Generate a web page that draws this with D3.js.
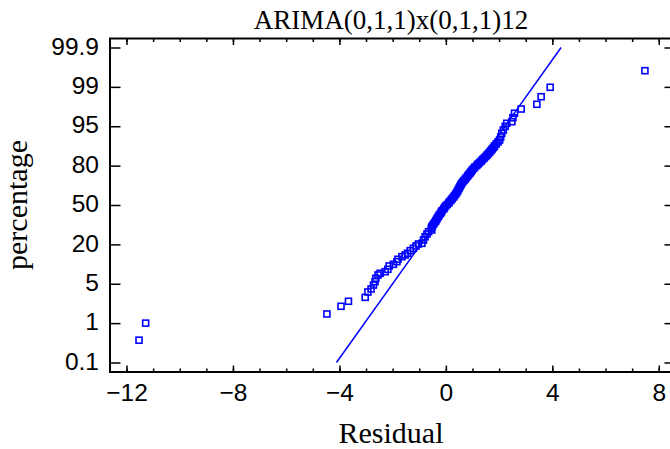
<!DOCTYPE html>
<html><head><meta charset="utf-8">
<script src="https://cdn.jsdelivr.net/npm/d3@7"></script>
<style>body{margin:0;background:#fff}svg{display:block}</style>
</head><body>
<svg id="c" width="670" height="449"></svg>
<script>
const chartTitle = "ARIMA(0,1,1)x(0,1,1)12";
const xTitle = "Residual";
const yTitle = "percentage";
const xMajorTicks = [-12, -8, -4, 0, 4, 8];
const xMinorTicks = [-12,-11,-10,-9,-8,-7,-6,-5,-4,-3,-2,-1,0,1,2,3,4,5,6,7,8];
const yTicks = [0.1, 1, 5, 20, 50, 80, 95, 99, 99.9];

const residuals = [
  -11.53, -11.28, -4.47, -3.94, -3.66, -3.03, -2.93, -2.81, -2.72, -2.66,
  -2.63, -2.55, -2.47, -2.28, -2.18, -2.13, -1.97, -1.84, -1.80, -1.65,
  -1.53, -1.44, -1.34, -1.22, -1.12, -1.03, -0.90, -0.84, -0.78, -0.71,
  -0.65, -0.53, -0.55, -0.53, -0.50, -0.46, -0.42, -0.38, -0.35, -0.32,
  -0.28, -0.25, -0.20, -0.17, -0.14, -0.08, -0.05, -0.01, 0.05, 0.11,
  0.14, 0.20, 0.24, 0.29, 0.33, 0.37, 0.41, 0.44, 0.47, 0.50,
  0.53, 0.56, 0.59, 0.63, 0.68, 0.73, 0.77, 0.82, 0.86, 0.91,
  0.95, 0.99, 1.04, 1.09, 1.16, 1.21, 1.27, 1.33, 1.38, 1.44,
  1.50, 1.55, 1.60, 1.65, 1.70, 1.74, 1.79, 1.83, 1.89, 1.96,
  2.02, 2.06, 2.10, 2.16, 2.23, 2.29, 2.48, 2.52, 2.58, 2.83,
  3.42, 3.58, 3.92, 7.48
];
const percents = [
  0.61, 1.00, 1.93, 2.71, 3.22, 3.62, 4.16, 4.47, 4.87, 5.79,
  7.09, 8.34, 8.99, 9.60, 10.51, 11.77, 12.42, 13.41, 14.32, 15.31,
  15.96, 16.61, 17.60, 18.51, 19.39, 20.29, 20.82, 23.33, 25.85, 27.90,
  29.66, 30.95, 32.10, 33.24, 34.38, 35.52, 36.67, 37.81, 38.95, 40.10,
  41.24, 42.38, 43.52, 44.67, 45.81, 46.95, 48.10, 49.24, 50.36, 51.50,
  52.65, 53.79, 54.93, 56.08, 57.22, 58.36, 59.50, 60.65, 61.79, 62.93,
  64.08, 65.22, 66.36, 67.50, 68.65, 69.79, 70.93, 72.08, 73.22, 74.36,
  75.50, 76.65, 77.79, 78.93, 80.05, 80.62, 81.19, 81.76, 82.33, 82.90,
  83.47, 84.05, 84.62, 85.19, 85.76, 86.33, 86.90, 87.48, 88.24, 89.00,
  89.76, 90.90, 92.31, 93.57, 94.96, 95.30, 95.46, 95.87, 96.32, 96.75,
  97.23, 98.00, 98.96, 99.37
];
const refResidual = [-4.11, 4.33];
const refPercent = [0.1, 99.9];

const svg = d3.select("#c");
const plot = {left: 110, right: 675, top: 38.5, bottom: 372};
const yLow = 362.5, yHigh = 47.5;
const step = (yLow - yHigh) / (yTicks.length - 1);

const x = d3.scaleLinear().domain([-12.62, 8.61]).range([plot.left, plot.right]);
const y = d3.scaleLinear().domain(yTicks).range(yTicks.map((d, i) => yLow - i * step));

const blue = "#0000ff";
const sansFont = "'Liberation Sans', Arial, sans-serif";
const serifFont = "'Liberation Serif', 'Times New Roman', serif";

function styleAxis(g) {
  g.select(".domain").remove();
  g.selectAll(".tick line").attr("stroke", "#000").attr("stroke-width", 1.5);
}
svg.append("g").attr("transform", `translate(0,${plot.bottom})`)
  .call(d3.axisBottom(x).tickValues(xMinorTicks).tickSize(-3.5).tickFormat(""))
  .call(styleAxis);
const xb = svg.append("g").attr("transform", `translate(0,${plot.bottom})`)
  .call(d3.axisBottom(x).tickValues(xMajorTicks).tickSize(-6.5).tickPadding(12).tickFormat(d3.format("d")))
  .call(styleAxis);
xb.selectAll("text").attr("font-family", sansFont).attr("font-size", 24.5).attr("fill", "#000");

svg.append("g").attr("transform", `translate(0,${plot.top})`)
  .call(d3.axisTop(x).tickValues(xMinorTicks).tickSize(-3.5).tickFormat(""))
  .call(styleAxis);
svg.append("g").attr("transform", `translate(0,${plot.top})`)
  .call(d3.axisTop(x).tickValues(xMajorTicks).tickSize(-6.5).tickFormat(""))
  .call(styleAxis);

const yl = svg.append("g").attr("transform", `translate(${plot.left},0)`)
  .call(d3.axisLeft(y).tickValues(yTicks).tickSize(-10.5).tickPadding(11).tickFormat(d => String(d)))
  .call(styleAxis);
yl.selectAll("text").attr("font-family", sansFont).attr("font-size", 24.5).attr("fill", "#000").attr("dy", "0.27em");

svg.append("g").attr("transform", `translate(${plot.right},0)`)
  .call(d3.axisRight(y).tickValues(yTicks).tickSize(-10.5).tickFormat(""))
  .call(styleAxis);

svg.append("rect")
  .attr("x", plot.left).attr("y", plot.top)
  .attr("width", plot.right - plot.left).attr("height", plot.bottom - plot.top)
  .attr("fill", "none").attr("stroke", "#000").attr("stroke-width", 2);

svg.append("path")
  .datum(refResidual.map((r, i) => [r, refPercent[i]]))
  .attr("d", d3.line().x(d => x(d[0])).y(d => y(d[1])))
  .attr("stroke", blue).attr("stroke-width", 1.5).attr("fill", "none");

svg.append("g").selectAll("rect")
  .data(residuals.map((r, i) => [r, percents[i]]))
  .join("rect")
  .attr("x", d => x(d[0]) - 3).attr("y", d => y(d[1]) - 3)
  .attr("width", 6).attr("height", 6)
  .attr("fill", "none").attr("stroke", blue).attr("stroke-width", 1.6);

svg.append("text").attr("x", 391).attr("y", 29)
  .attr("text-anchor", "middle").attr("font-family", serifFont).attr("font-size", 27)
  .text(chartTitle);
svg.append("text").attr("x", 391).attr("y", 443)
  .attr("text-anchor", "middle").attr("font-family", serifFont).attr("font-size", 30)
  .text(xTitle);
svg.append("text").attr("transform", "translate(27,205) rotate(-90)")
  .attr("text-anchor", "middle").attr("font-family", serifFont).attr("font-size", 30)
  .text(yTitle);
</script>
</body></html>
